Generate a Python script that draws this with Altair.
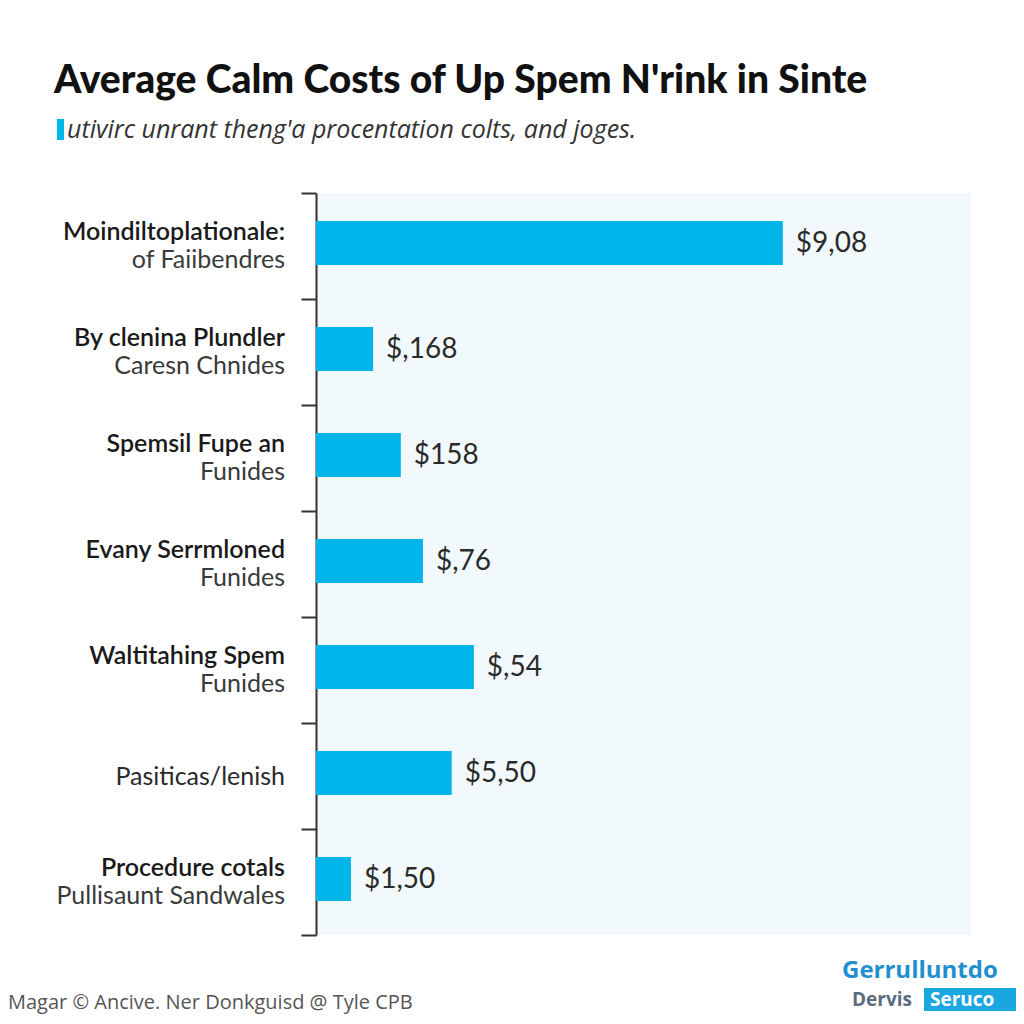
import altair as alt
import pandas as pd

line1 = ["Moindiltoplationale:", "By clenina Plundler", "Spemsil Fupe an",
         "Evany Serrmloned", "Waltitahing Spem", "Pasiticas/lenish", "Procedure cotals"]
line2 = ["of Faiibendres", "Caresn Chnides", "Funides", "Funides", "Funides", "",
         "Pullisaunt Sandwales"]
values = [9.08, 1.11, 1.65, 2.08, 3.07, 2.64, 0.68]
value_labels = ["$9,08", "$,168", "$158", "$,76", "$,54", "$5,50", "$1,50"]

cats = [f"c{i}" for i in range(len(values))]
df = pd.DataFrame({"cat": cats, "l1": line1, "l2": line2, "v": values, "lab": value_labels})
df["two"] = df["l2"] != ""

FONT = "Lato"
BLUE = "#00b5e9"

y = alt.Y("cat:N", sort=None,
          scale=alt.Scale(paddingInner=0, paddingOuter=0),
          axis=alt.Axis(labels=False, title=None, ticks=True, tickBand="extent",
                        tickSize=15, tickWidth=2, tickColor="#333",
                        domainColor="#333", domainWidth=2, grid=False))
x = alt.X("v:Q", scale=alt.Scale(domain=[0, 12.74], nice=False), axis=None)

base = alt.Chart(df)

bars = base.mark_bar(color=BLUE, height=44, yOffset=-3).encode(y=y, x=x)
vals = base.mark_text(align="left", baseline="middle", dx=13, dy=-2, font=FONT,
                      fontSize=28, color="#2a2a2a").encode(y=y, x=x, text="lab:N")

two = base.transform_filter("datum.two")
one = base.transform_filter("!datum.two")
t1 = two.mark_text(align="right", baseline="middle", dy=-14, font=FONT, fontSize=25,
                   fontWeight=600, color="#1a1a1a").encode(y=y, x=alt.value(-31), text="l1:N")
t2 = two.mark_text(align="right", baseline="middle", dy=14, font=FONT, fontSize=25,
                   color="#3a3a3a").encode(y=y, x=alt.value(-31), text="l2:N")
t3 = one.mark_text(align="right", baseline="middle", dy=1, font=FONT, fontSize=25,
                   color="#2a2a2a").encode(y=y, x=alt.value(-31), text="l1:N")

ann = pd.DataFrame({"k": [0]})
annb = alt.Chart(ann)
title = annb.mark_text(align="left", baseline="alphabetic", font=FONT, fontSize=39,
                       fontWeight=900, color="#111",
                       text="Average Calm Costs of Up Spem N'rink in Sinte").encode(
    x=alt.value(-262), y=alt.value(-100))
sub_rect = annb.mark_rect(color=BLUE).encode(
    x=alt.value(-259), x2=alt.value(-252), y=alt.value(-74), y2=alt.value(-53))
subtitle = annb.mark_text(align="left", baseline="alphabetic", font="Open Sans",
                          fontSize=25, fontStyle="italic", color="#333",
                          text="utivirc unrant theng'a procentation colts, and joges.").encode(
    x=alt.value(-249), y=alt.value(-55))
footer = annb.mark_text(align="left", baseline="alphabetic", font="Open Sans",
                        fontSize=20, color="#555",
                        text="Magar © Ancive. Ner Donkguisd @ Tyle CPB").encode(
    x=alt.value(-308), y=alt.value(816))
logo1 = annb.mark_text(align="left", baseline="alphabetic", font="Open Sans",
                       fontSize=24, fontWeight="bold", color="#1f8fd0",
                       text="Gerrulluntdo").encode(x=alt.value(526), y=alt.value(785))
logo_box = annb.mark_rect(color="#1aa6e0").encode(
    x=alt.value(608), x2=alt.value(700), y=alt.value(795), y2=alt.value(818))
logo2 = annb.mark_text(align="left", baseline="alphabetic", font="Open Sans",
                       fontSize=19, fontWeight="bold", color="#5a6b7d",
                       text="Dervis").encode(x=alt.value(536), y=alt.value(813))
logo3 = annb.mark_text(align="left", baseline="alphabetic", font="Open Sans",
                       fontSize=19, fontWeight="bold", color="white",
                       text="Seruco").encode(x=alt.value(614), y=alt.value(813))

chart = alt.layer(bars, vals, t1, t2, t3, title, sub_rect, subtitle, footer,
                  logo1, logo_box, logo2, logo3).properties(
    width=655, height=742,
    autosize=alt.AutoSizeParams(type="none"),
    padding={"left": 308, "top": 185, "right": 45, "bottom": 81},
    background="white",
).configure_view(fill="#f2f9fd", stroke=None)

chart.save("out.html", embed_options={"renderer": "svg", "actions": False})
